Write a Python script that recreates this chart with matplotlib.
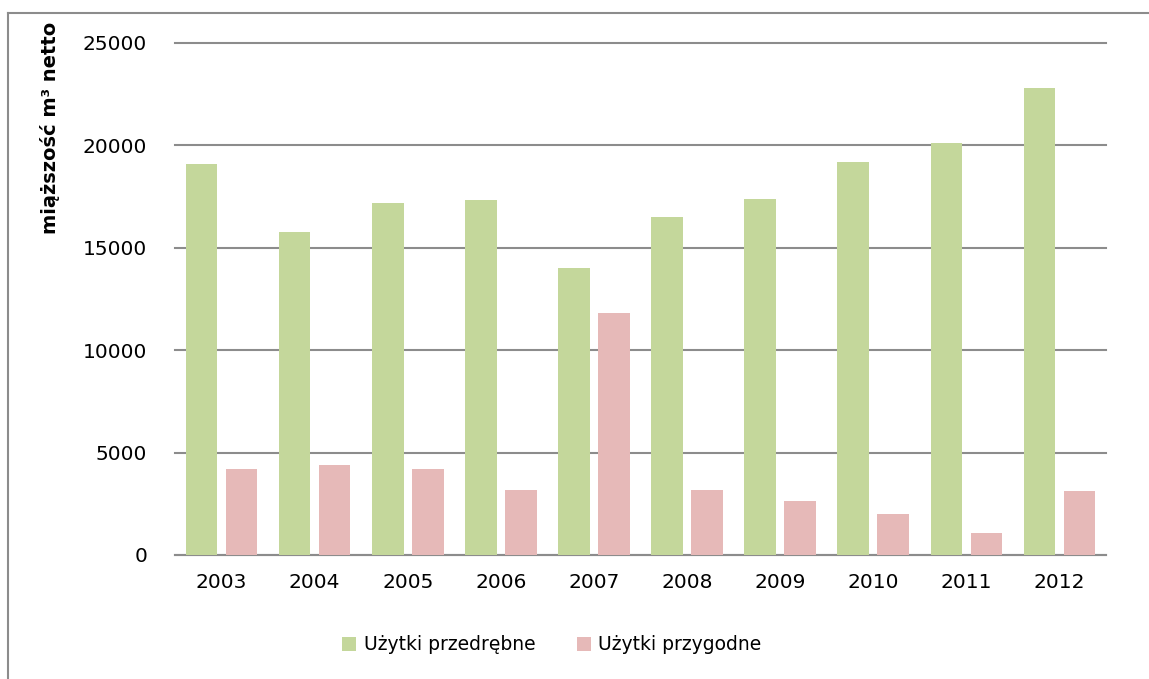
import matplotlib.pyplot as plt
import numpy as np
from matplotlib.lines import Line2D

# Data
years = ['2003', '2004', '2005', '2006', '2007', '2008', '2009', '2010', '2011', '2012']
przedrebne = [19100, 15750, 17170, 17330, 14000, 16500, 17370, 19200, 20100, 22800]
przygodne = [4180, 4410, 4200, 3170, 11840, 3170, 2650, 1990, 1070, 3140]

green = '#C4D79B'
pink = '#E6B9B8'
grid_col = '#8C8C8C'

plt.rcParams['font.family'] = ['DejaVu Sans']

fig = plt.figure(figsize=(11.49, 6.79), dpi=100)
ax = fig.add_axes([175 / 1149, 124 / 679, 931 / 1149, 512 / 679])

x = np.arange(len(years))
w = 0.34
ax.bar(x - 0.215, przedrebne, w, color=green, label='Użytki przedrębne', zorder=3)
ax.bar(x + 0.215, przygodne, w, color=pink, label='Użytki przygodne', zorder=3)

ax.set_xlim(-0.5, len(years) - 0.5)
ax.set_ylim(0, 25000)
ax.set_yticks(range(0, 25001, 5000))
ax.set_xticks(x)
ax.set_xticklabels(years)

ax.yaxis.grid(True, color=grid_col, linewidth=1.5, zorder=0)
for gl in ax.get_ygridlines():
    gl.set_clip_on(False)
for s in ['top', 'right', 'left']:
    ax.spines[s].set_visible(False)
ax.spines['bottom'].set_color(grid_col)
ax.spines['bottom'].set_linewidth(1.5)
ax.tick_params(axis='both', length=0, labelsize=14.5, colors='black')
ax.tick_params(axis='y', pad=20)
ax.tick_params(axis='x', pad=13)

fig.text(50 / 1149, 1 - 22 / 679, 'miąższość m³ netto', rotation=90, ha='center', va='top',
         fontsize=14, fontweight='bold')

fig.legend(loc='center', bbox_to_anchor=(552 / 1149, 1 - 645 / 679), ncol=2, frameon=False,
           fontsize=13.5, handlelength=0.75, handleheight=0.75, handletextpad=0.4,
           columnspacing=2.2)

# outer chart border (only top and left edges are visible in the crop)
fig.lines.append(Line2D([8 / 1149, 1], [1 - 13 / 679, 1 - 13 / 679], transform=fig.transFigure,
                        color=grid_col, linewidth=1.5))
fig.lines.append(Line2D([8 / 1149, 8 / 1149], [0, 1 - 13 / 679], transform=fig.transFigure,
                        color=grid_col, linewidth=1.5))

fig.savefig('out.png', dpi=100)
